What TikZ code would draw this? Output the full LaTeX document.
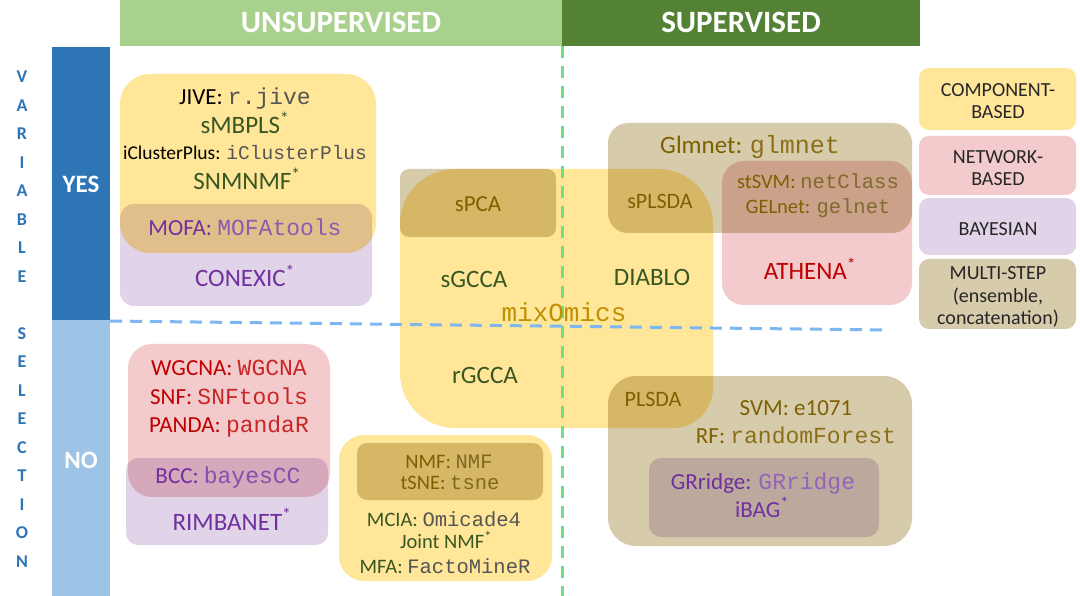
\documentclass[tikz,border=0pt]{standalone}
\usepackage{fontspec}
\setmainfont{Carlito}
\newfontfamily\cour{Liberation Mono}
\definecolor{comp}{HTML}{FFE699}
\definecolor{netw}{HTML}{F3CBCD}
\definecolor{bayes}{HTML}{E1D4E9}
\definecolor{multi}{HTML}{D6CBAB}
\definecolor{hunsup}{HTML}{A9D18E}
\definecolor{hsup}{HTML}{548235}
\definecolor{yesc}{HTML}{2E75B6}
\definecolor{noc}{HTML}{9DC3E6}
\definecolor{dgreen}{HTML}{385723}
\definecolor{olive}{HTML}{7F6000}
\definecolor{dred}{HTML}{C00000}
\definecolor{purp}{HTML}{7030A0}
\definecolor{gold}{HTML}{BF9000}
\definecolor{gline}{HTML}{6FE07F}
\definecolor{bline}{HTML}{7DB7F2}
\definecolor{monog}{HTML}{555555}
\definecolor{legtext}{HTML}{262626}
\newcommand\sast{\textsuperscript{*}}
\begin{document}
\begin{tikzpicture}[x=1pt,y=-1pt,
  lbl/.style={inner sep=0pt,text depth=0pt},
  head/.style={lbl,text=white,font=\bfseries\fontsize{31}{36}\selectfont,text height=20pt},
  side/.style={lbl,text=white,font=\bfseries\fontsize{25}{30}\selectfont,text height=16pt},
  letter/.style={lbl,text=yesc,font=\bfseries\fontsize{18}{22}\selectfont,text height=11.6pt},
  tA/.style={lbl,font=\fontsize{25}{30}\selectfont,text height=16pt},
  tB/.style={lbl,font=\fontsize{23}{28}\selectfont,text height=14.8pt},
  tC/.style={lbl,font=\fontsize{22}{26}\selectfont,text height=14.2pt},
  tD/.style={lbl,font=\fontsize{20.5}{24}\selectfont,text height=13.2pt},
  tE/.style={lbl,font=\fontsize{19.5}{23}\selectfont,text height=12.6pt},
  leg/.style={lbl,text=legtext,font=\fontsize{20}{24}\selectfont,text height=12.9pt},
  dashline/.style={line width=3pt,dash pattern=on 12pt off 8pt}]
\useasboundingbox (0,0) rectangle (1080,596);
\fill[white] (0,0) rectangle (1080,596);
% headers and side bars
\fill[hunsup] (120,0) rectangle (562,46);
\fill[hsup] (562,0) rectangle (920,46);
\fill[yesc] (52,47) rectangle (110,320);
\fill[noc] (52,320) rectangle (110,596);
% category boxes
\begin{scope}[blend mode=multiply]
  \fill[comp,rounded corners=30pt] (120,74) rectangle (376,253);
  \fill[bayes,rounded corners=14pt] (120,204) rectangle (372,306);
  \fill[comp] (556,169) [rounded corners=55pt] -- (713,169) -- (713,300)
     [rounded corners=40pt] -- (713,428) -- (556,428)
     [rounded corners=55pt] -- (400,428) -- (400,169) -- cycle;
  \fill[multi,rounded corners=9pt] (400,169) rectangle (556,237);
  \fill[multi,rounded corners=20pt] (608,123) rectangle (912,233);
  \fill[netw,rounded corners=22pt] (722,161) rectangle (912,305);
  \fill[multi,rounded corners=28pt] (608,376) rectangle (912,546);
  \fill[bayes,rounded corners=12pt] (649,458) rectangle (879,537);
  \fill[netw,rounded corners=24pt] (128,344) rectangle (330,497);
  \fill[bayes,rounded corners=12pt] (126,458) rectangle (328,545);
  \fill[comp,rounded corners=25pt] (339,435) rectangle (552,581);
  \fill[multi,rounded corners=10pt] (357,443) rectangle (543,500);
  % legend
  \fill[comp,rounded corners=10pt] (919,68) rectangle (1076,130);
  \fill[netw,rounded corners=10pt] (919,136) rectangle (1076,195);
  \fill[bayes,rounded corners=10pt] (919,198) rectangle (1076,255);
  \fill[multi,rounded corners=10pt] (919,259) rectangle (1076,329);
\end{scope}
% dashed separators
\coordinate (gtop) at (562,46);
\coordinate (gbot) at (562,596);
\coordinate (bleft) at (110,321);
\coordinate (bright) at (885,330);
\draw[dashline,gline] (gtop) -- (gbot);
\draw[dashline,bline] (bleft) -- (bright);
% header texts
\node[head] (unsup) at (341,23) {UNSUPERVISED};
\node[head] (sup) at (741,23) {SUPERVISED};
\node[side] (yes) at (81,185) {YES};
\node[side] (no) at (81,460) {NO};
% VARIABLE SELECTION
\node[letter] (v1) at (22,77) {V};
\node[letter] (v2) at (22,105.5) {A};
\node[letter] (v3) at (22,134) {R};
\node[letter] (v4) at (22,162.5) {I};
\node[letter] (v5) at (22,191) {A};
\node[letter] (v6) at (22,219.5) {B};
\node[letter] (v7) at (22,248) {L};
\node[letter] (v8) at (22,276.5) {E};
\node[letter] (s1) at (22,333.5) {S};
\node[letter] (s2) at (22,362) {E};
\node[letter] (s3) at (22,390.5) {L};
\node[letter] (s4) at (22,419) {E};
\node[letter] (s5) at (22,447.5) {C};
\node[letter] (s6) at (22,476) {T};
\node[letter] (s7) at (22,504.5) {I};
\node[letter] (s8) at (22,533) {O};
\node[letter] (s9) at (22,561.5) {N};
% unsupervised / yes
\node[tB,text=black] (jive) at (245,97) {JIVE: {\cour\color{monog}r.jive}};
\node[tA,text=dgreen] (smbpls) at (245,126) {sMBPLS\sast};
\node[tE,text=black] (iclust) at (245,153) {iClusterPlus: {\cour\color{monog}iClusterPlus}};
\node[tA,text=dgreen] (snmnmf) at (247,182) {SNMNMF\sast};
\node[tB,text=purp] (mofa) at (245,228) {MOFA: {\cour\color{purp!80}MOFAtools}};
\node[tA,text=purp] (conexic) at (245,279) {CONEXIC\sast};
% mixOmics
\node[tB,text=olive] (spca) at (478,204) {sPCA};
\node[tC,text=olive] (splsda) at (660,201) {sPLSDA};
\node[tA,text=dgreen] (sgcca) at (474,280) {sGCCA};
\node[tA,text=dgreen] (diablo) at (652,278) {DIABLO};
\node[tA,text=dgreen] (rgcca) at (485,375) {rGCCA};
\node[inner sep=0pt,anchor=base,text=gold,font=\cour\fontsize{26}{30}\selectfont] (mixomics) at (564,322) {mixOmics};
% supervised / yes
\node[tA,text=olive] (glmnet) at (750,146) {Glmnet: {\cour\color{olive!90}glmnet}};
\node[tD,text=olive] (stsvm) at (818,182) {stSVM: {\cour\color{olive!65!gray}netClass}};
\node[tD,text=olive] (gelnet) at (818,207) {GELnet: {\cour\color{olive!65!gray}gelnet}};
\node[tA,text=dred] (athena) at (810,272) {ATHENA\sast};
% supervised / no
\node[tC,text=olive] (plsda) at (653,399) {PLSDA};
\node[tB,text=olive] (svm) at (796,408) {SVM: e1071};
\node[tB,text=olive] (rf) at (796,436) {RF: {\cour\color{olive!90}randomForest}};
\node[tB,text=purp] (grridge) at (763,482) {GRridge: {\cour\color{purp!75}GRridge}};
\node[tB,text=purp] (ibag) at (762,510) {iBAG\sast};
% unsupervised / no
\node[tB,text=dred] (wgcna) at (229,368) {WGCNA: {\cour\color{dred!85}WGCNA}};
\node[tB,text=dred] (snf) at (229,397) {SNF: {\cour\color{dred!85}SNFtools}};
\node[tB,text=dred] (panda) at (229,425) {PANDA: {\cour\color{dred!85}pandaR}};
\node[tB,text=purp] (bcc) at (228,476) {BCC: {\cour\color{purp!85}bayesCC}};
\node[tA,text=purp] (rimbanet) at (232,522) {RIMBANET\sast};
\node[tD,text=olive] (nmf) at (449,462) {NMF: {\cour\color{olive!75!gray}NMF}};
\node[tD,text=olive] (tsne) at (450,483) {tSNE: {\cour\color{olive!75!gray}tsne}};
\node[tD,text=dgreen] (mcia) at (444,520) {MCIA: {\cour\color{monog}Omicade4}};
\node[tD,text=dgreen] (jnmf) at (446,542) {Joint NMF\sast};
\node[tD,text=dgreen] (mfa) at (445,567) {MFA: {\cour\color{monog}FactoMineR}};
% legend
\node[leg] (lc1) at (998,90) {COMPONENT-};
\node[leg] (lc2) at (998,112) {BASED};
\node[leg] (ln1) at (998,157) {NETWORK-};
\node[leg] (ln2) at (998,179) {BASED};
\node[leg] (lb) at (998,229) {BAYESIAN};
\node[leg] (lm1) at (998,273) {MULTI-STEP};
\node[leg] (lm2) at (998,296) {(ensemble,};
\node[leg] (lm3) at (998,318) {concatenation)};
\end{tikzpicture}
\end{document}
